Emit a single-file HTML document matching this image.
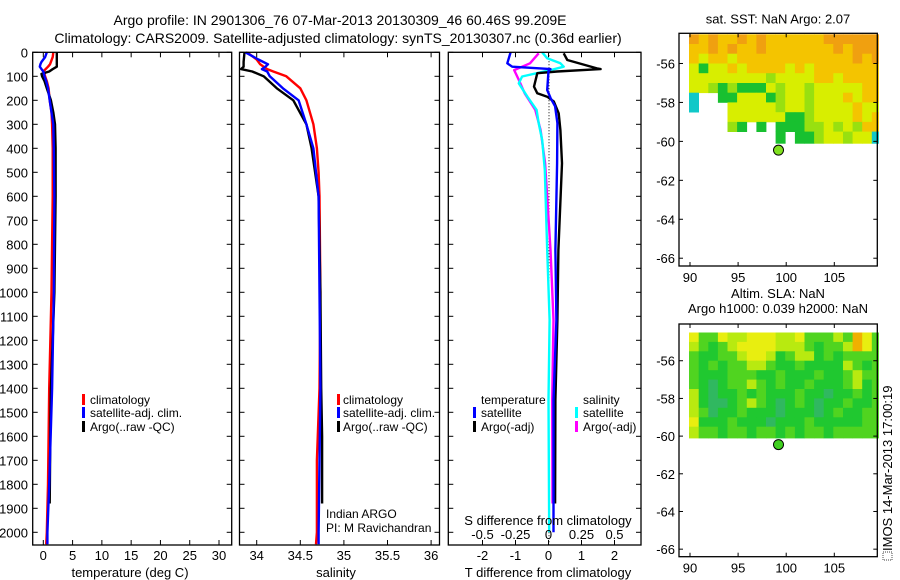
<!DOCTYPE html>
<html><head><meta charset="utf-8"><style>
body{margin:0;background:#fff;}
svg{display:block;font-family:"Liberation Sans",sans-serif;}
text{fill:#000;}
</style></head><body>
<svg id="fig" width="900" height="580" viewBox="0 0 900 580">
<g>
<text x="340" y="25" font-size="14" text-anchor="middle">Argo profile: IN 2901306_76 07-Mar-2013 20130309_46 60.46S 99.209E</text>
<text x="338" y="43" font-size="14" text-anchor="middle">Climatology: CARS2009. Satellite-adjusted climatology: synTS_20130307.nc (0.36d earlier)</text>
</g>
<g id="p1"></g>
<g id="p2"></g>
<g id="p3"></g>
<g id="m1"></g>
<g id="m2"></g>
<g>
<rect x="82" y="394" width="3" height="11" fill="#f00"/>
<text x="90" y="404" font-size="12">climatology</text>
<rect x="82" y="407" width="3" height="11" fill="#00f"/>
<text x="90" y="417" font-size="12">satellite-adj. clim.</text>
<rect x="82" y="421" width="3" height="11" fill="#000"/>
<text x="90" y="431" font-size="12">Argo(..raw -QC)</text>
</g>
<g>
<rect x="337" y="394" width="3" height="11" fill="#f00"/>
<text x="343" y="404" font-size="12">climatology</text>
<rect x="337" y="407" width="3" height="11" fill="#00f"/>
<text x="343" y="417" font-size="12">satellite-adj. clim.</text>
<rect x="337" y="421" width="3" height="11" fill="#000"/>
<text x="343" y="431" font-size="12">Argo(..raw -QC)</text>
<text x="326" y="518" font-size="12">Indian ARGO</text>
<text x="326" y="532" font-size="12">PI: M Ravichandran</text>
</g>
<g>
<text x="481" y="404" font-size="12">temperature</text>
<rect x="473" y="407" width="3" height="11" fill="#00f"/>
<text x="481" y="417" font-size="12">satellite</text>
<rect x="473" y="421" width="3" height="11" fill="#000"/>
<text x="481" y="431" font-size="12">Argo(-adj)</text>
<text x="583" y="404" font-size="12">salinity</text>
<rect x="575" y="407" width="3" height="11" fill="#0ff"/>
<text x="583" y="417" font-size="12">satellite</text>
<rect x="575" y="421" width="3" height="11" fill="#f0f"/>
<text x="583" y="431" font-size="12">Argo(-adj)</text>
</g>
<g transform="translate(892,560) rotate(-90)">
<rect x="0" y="-9" width="8" height="9" fill="none" stroke="#000" stroke-width="0.7" stroke-dasharray="1,1"/>
<text x="9" y="0" font-size="13">IMOS 14-Mar-2013 17:00:19</text>
</g>
</svg>
<script>
// ---- profile data ----
const tDepth = [0,20,40,50,60,70,80,90,100,120,150,200,250,300,400,600,1000,1400,1800,2000,2050];
const tClim  = [1.7,1.6,1.3,1.15,0.8,0.4,0.0,0.2,0.3,0.6,0.9,1.1,1.4,1.5,1.6,1.6,1.4,1.0,0.8,0.6,0.5];
const tSat   = [0.6,0.3,-0.3,-0.5,-0.6,-0.3,0.0,0.1,0.2,0.5,0.8,1.1,1.4,1.7,1.8,1.9,1.8,1.5,1.0,0.7,0.7];
const aDepth = [0,20,40,60,70,80,90,100,120,150,200,250,300,400,600,1000,1400,1600,1880];
const tArgo  = [2.3,2.3,2.3,2.3,1.6,1.0,-0.3,-0.2,0.2,0.6,1.3,1.7,2.0,2.1,2.1,1.9,1.3,1.2,1.1];
const sDepth = [0,30,50,60,70,80,100,150,200,300,400,500,600,1000,1400,1700,2000,2050];
const sClim  = [33.89,34.0,34.04,34.08,34.12,34.19,34.34,34.5,34.57,34.65,34.69,34.71,34.72,34.73,34.72,34.69,34.69,34.68];
const sSat   = [33.87,34.02,34.13,34.1,34.06,34.12,34.15,34.3,34.48,34.57,34.65,34.68,34.71,34.72,34.73,34.72,34.71,34.71];
const saDepth= [0,40,60,70,80,100,150,200,300,400,500,600,1000,1400,1600,1880];
const sArgo  = [33.86,33.85,33.85,33.82,33.95,34.08,34.23,34.42,34.57,34.63,34.67,34.71,34.73,34.74,34.75,34.75];
// ---- difference data ----
const dTsatDepth = [0,46,60,67,70,78,157,190,225,295,462,823,1115,1448,2000];
const dTsat      = [-1.15,-1.25,-1.1,-0.24,0.06,0.0,-0.04,0.06,0.2,0.27,0.26,0.21,0.24,0.15,0.15];
const dTargoDepth= [4,32,67,70,80,87,143,171,185,205,254,324,462,823,1115,1448,1880];
const dTargo     = [0.46,0.57,1.47,1.58,0.26,-0.34,-0.44,-0.34,-0.04,0.16,0.31,0.36,0.41,0.3,0.27,0.21,0.2];
const dSsatDepth = [0,25,46,60,74,101,129,185,240,296,366,490,823,1115,1448,2000];
const dSsat      = [-0.048,-0.01,0.09,0.115,0.015,-0.2,-0.225,-0.16,-0.09,-0.074,-0.048,-0.028,-0.01,0.008,0.0,0.005];
const dSargoDepth= [4,46,74,115,171,240,324,462,823,1115,1448,1880];
const dSargo     = [-0.074,-0.14,-0.26,-0.225,-0.18,-0.1,-0.06,-0.026,0.015,0.038,0.028,0.03];
// ---- tick labels ----
const depthTicks = [0,100,200,300,400,500,600,700,800,900,1000,1100,1200,1300,1400,1500,1600,1700,1800,1900,2000];
const tempTicks = [0,5,10,15,20,25,30];
const salTicks = [34,34.5,35,35.5,36];
const salTickLabels = ["34","34.5","35","35.5","36"];
const dTTicks = [-2,-1,0,1,2];
const dSTicks = [-0.5,-0.25,0,0.25,0.5];
const dSTickLabels = ["-0.5","-0.25","0","0.25","0.5"];
const lonTicks = [90,95,100,105];
const latTicks = [-56,-58,-60,-62,-64,-66];
// ---- maps ----
const argoLon = 99.2, argoLat = -60.45;
const sstRows = [
"oyoyyoyoyyyyyyoooooo",
"yyoyoyyoyyyyyyyoyooo",
"ylyylyyyyyyyyyyyyoyo",
"lGllylyyyylylyyyyyyy",
"llllllllgllllyylyyyy",
"llgGgGGGlgllglllllyy",
"c..GGlllGgllglllylyy",
"c...lllllgllgllllyll",
"....llllllGGgllllyly",
"....gG.G.GGGgglglgyy",
".........G.GGgllgllc"];
const slaRows = [
"yggyllyyyllyggglgoyg",
"lgGglyyyylllgGggloyg",
"gGGgglyylGgllGgGgggg",
"gGgGggllgGGgGGGGlgGg",
"gGGGgggGGgGGGgGGglgg",
"gGtGgglgGgGGgGGGglGg",
"lGtGGgGgGGGgGGtGGgGg",
"lGttGglgGtGgGtGGgGGg",
"lgtGGgGGGtGGGtGgGGgg",
"yGGGgGGGtGGGgGGGGGgg",
"lggGggGggGgGggGggggg"];

const NS="http://www.w3.org/2000/svg";
function mk(parent,tag,attrs){const e=document.createElementNS(NS,tag);for(const k in attrs)e.setAttribute(k,attrs[k]);parent.appendChild(e);return e;}
const TOP=52.3, BOT=545, yD=d=>TOP+d*0.24;

function frame(g,x0,x1,y0,y1){
  const r=mk(g,'rect',{x:x0,y:y0,width:x1-x0,height:y1-y0,fill:'none',stroke:'#000','stroke-width':1.3});
  
  
}
function yTicks(g,x0,x1,labels){
  depthTicks.forEach(d=>{
    const y=yD(d);
    mk(g,'line',{x1:x0,x2:x0+5,y1:y,y2:y,stroke:'#000'});
    mk(g,'line',{x1:x1,x2:x1-5,y1:y,y2:y,stroke:'#000'});
    if(labels){const t=mk(g,'text',{x:28,y:y+5,'font-size':13,'text-anchor':'end'});t.textContent=d;
      
      }
  });
}
function xTicks(g,vals,labs,fx,top,bot,ly){
  vals.forEach((v,i)=>{
    const x=fx(v);
    mk(g,'line',{x1:x,x2:x,y1:top,y2:top+5,stroke:'#000'});
    mk(g,'line',{x1:x,x2:x,y1:bot,y2:bot-5,stroke:'#000'});
    if(ly){const t=mk(g,'text',{x:x,y:ly,'font-size':13,'text-anchor':'middle'});t.textContent=labs[i];
      
      }
  });
}
function line(g,xs,ds,fx,col,name){
  const pts=xs.map((v,i)=>fx(v).toFixed(1)+','+yD(ds[i]).toFixed(1)).join(' ');
  const p=mk(g,'polyline',{points:pts,fill:'none',stroke:col,'stroke-width':2.4,'stroke-linejoin':'round'});
  
  
}
function label(g,x,y,s,name){const t=mk(g,'text',{x:x,y:y,'font-size':13,'text-anchor':'middle'});t.textContent=s;
  
  }

// panel 1
const p1=document.getElementById('p1');
const fT=v=>43.3+v*5.857;
line(p1,tClim,tDepth,fT,'#f00','temperature-climatology-line');
line(p1,tArgo,aDepth,fT,'#000','temperature-argo-line');
line(p1,tSat,tDepth,fT,'#00f','temperature-satellite-line');
frame(p1,32.7,231.7,TOP,BOT);yTicks(p1,32.7,231.7,true);
xTicks(p1,tempTicks,tempTicks,fT,TOP,BOT,560);
label(p1,130,577,'temperature (deg C)','x-axis-title-temperature');
// panel 2
const p2=document.getElementById('p2');
const fS=v=>256.7+(v-34)*87.2;
line(p2,sClim,sDepth,fS,'#f00','salinity-climatology-line');
line(p2,sArgo,saDepth,fS,'#000','salinity-argo-line');
line(p2,sSat,sDepth,fS,'#00f','salinity-satellite-line');
frame(p2,239.5,439.5,TOP,BOT);yTicks(p2,239.5,439.5,false);
xTicks(p2,salTicks,salTickLabels,fS,TOP,BOT,560);
label(p2,336,577,'salinity','x-axis-title-salinity');
// panel 3
const p3=document.getElementById('p3');
const fdT=v=>548.5+v*33, fdS=v=>548.5+v*132;
const z=mk(p3,'line',{x1:549,x2:549,y1:TOP,y2:BOT,stroke:'#000','stroke-dasharray':'1,2'});


line(p3,dSargo,dSargoDepth,fdS,'#f0f','s-argo-diff-line');
line(p3,dSsat,dSsatDepth,fdS,'#0ff','s-satellite-diff-line');
line(p3,dTargo,dTargoDepth,fdT,'#000','t-argo-diff-line');
line(p3,dTsat,dTsatDepth,fdT,'#00f','t-satellite-diff-line');
frame(p3,448.3,641,TOP,BOT);yTicks(p3,448.3,641,false);
xTicks(p3,dTTicks,dTTicks,fdT,TOP,BOT,560);
dSTicks.forEach((v,i)=>{const t=mk(p3,'text',{x:fdS(v),y:539,'font-size':13,'text-anchor':'middle'});t.textContent=dSTickLabels[i];
  
  });
label(p3,548,525,'S difference from climatology','s-axis-title');
label(p3,548,577,'T difference from climatology','t-axis-title');

// maps
const COL_SST={o:'#f0a010',y:'#f4c400',l:'#d8ee00',g:'#98e010',G:'#18c030',c:'#10c8c8'};
const COL_SLA={o:'#f0b000',y:'#e8ee10',l:'#b8ea10',g:'#50d420',G:'#20c830',t:'#30b860'};
function map(id,y0,y1,latTop,rows,cols,title1,title2,ptFill){
  const g=document.getElementById(id);
  const X0=679,X1=877.3;
  const fx=lon=>690+(lon-90)*9.62;
  const fy=lat=>y0+(latTop-lat)*((y1-y0)/(latTop+66.4));
  rows.forEach((row,r)=>{
    for(let c=0;c<row.length;c++){
      const ch=row[c]; if(ch==='.')continue;
      const la0=Math.min(latTop,-54.5-r*0.5), la1=(r===rows.length-1)?-60.1:-55-r*0.5;
      const lo0=89.9+c, lo1=Math.min(109.6,90.9+c);
      const e=mk(g,'rect',{x:fx(lo0).toFixed(1),y:fy(la0).toFixed(1),width:(fx(lo1)-fx(lo0)+0.4).toFixed(1),height:(fy(la1)-fy(la0)+0.4).toFixed(1),fill:cols[ch]});
      
      
    }
  });
  const pt=mk(g,'circle',{cx:fx(argoLon),cy:fy(argoLat),r:5,fill:ptFill,stroke:'#000','stroke-width':1});
  
  
  const f=mk(g,'rect',{x:X0,y:y0,width:X1-X0,height:y1-y0,fill:'none',stroke:'#000','stroke-width':1.3});
  
  
  lonTicks.forEach(v=>{const x=fx(v);
    mk(g,'line',{x1:x,x2:x,y1:y0,y2:y0+4,stroke:'#000'});mk(g,'line',{x1:x,x2:x,y1:y1,y2:y1-4,stroke:'#000'});
    const t=mk(g,'text',{x:x,y:y1+16,'font-size':13,'text-anchor':'middle'});t.textContent=v;
    
    });
  latTicks.forEach(v=>{const y=fy(v);
    mk(g,'line',{x1:X0,x2:X0+4,y1:y,y2:y,stroke:'#000'});mk(g,'line',{x1:X1,x2:X1-4,y1:y,y2:y,stroke:'#000'});
    const t=mk(g,'text',{x:675,y:y+5,'font-size':13,'text-anchor':'end'});t.textContent=v;
    
    });
  if(title2){label(g,778,y0-26,title1,'map-title');label(g,778,y0-11,title2,'map-subtitle');}
  else label(g,778,y0-10,title1,'map-title');
}
map('m1',33.3,266,-54.45,sstRows,COL_SST,'sat. SST: NaN Argo: 2.07',null,'#80e020');
map('m2',324,556.7,-54.05,slaRows,COL_SLA,'Altim. SLA: NaN','Argo h1000: 0.039 h2000: NaN','#40d020');
</script>
</body></html>
